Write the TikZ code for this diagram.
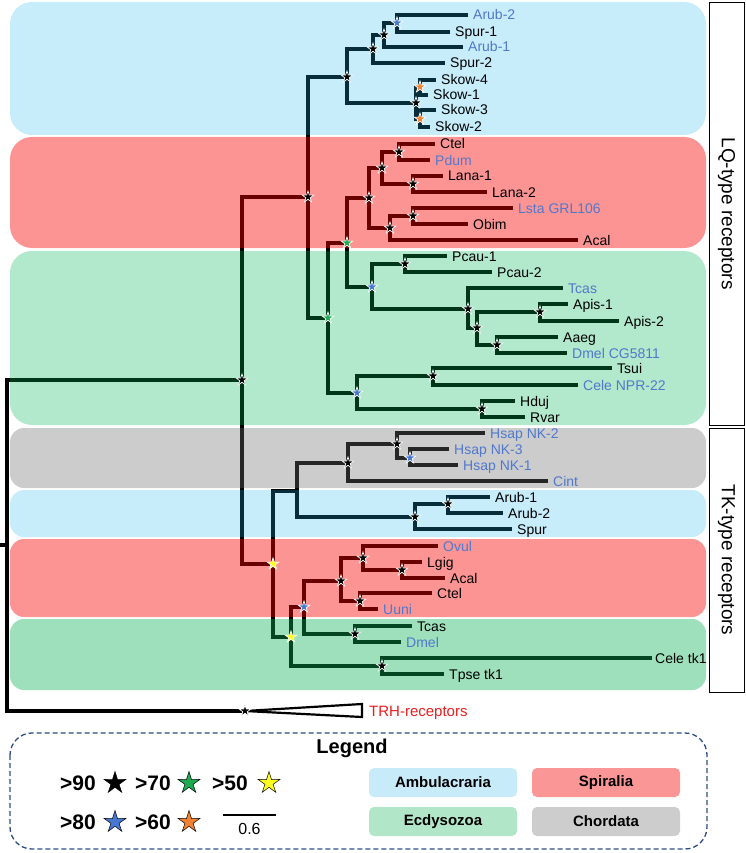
\documentclass[tikz,border=0pt]{standalone}
\usepackage{fontspec}
\setmainfont{Liberation Sans}
\usetikzlibrary{shapes.geometric}
\pgfdeclarelayer{lines}
\pgfdeclarelayer{bands}
\pgfsetlayers{lines,bands,main}
\definecolor{bblue}{RGB}{31,179,235}
\definecolor{bred}{RGB}{250,0,0}
\definecolor{bgreenA}{RGB}{0,178,82}
\definecolor{bgreenB}{RGB}{10,177,85}
\definecolor{bgray}{RGB}{109,109,109}
\definecolor{lblue}{RGB}{80,120,205}
\definecolor{trhred}{RGB}{232,30,30}
\definecolor{legblue}{RGB}{45,75,130}
\definecolor{ambc}{RGB}{200,235,250}
\definecolor{spic}{RGB}{250,150,150}
\definecolor{ecdc}{RGB}{178,230,200}
\definecolor{choc}{RGB}{205,205,205}
\definecolor{sgreen}{RGB}{30,170,80}
\definecolor{syellow}{RGB}{255,255,30}
\definecolor{sblue}{RGB}{70,120,210}
\definecolor{sorange}{RGB}{240,130,50}
\newcommand{\leaffnt}{\fontsize{14}{16}\selectfont}
\tikzset{
  br/.style={line width=3.2pt, line join=miter},
  leaf/.style={anchor=west, inner xsep=5pt, inner ysep=0pt, text height=10pt, text depth=0pt, font=\leaffnt},
  bleaf/.style={leaf, text=lblue},
  tstar/.style={star, star points=5, star point ratio=2.6, minimum size=12pt, inner sep=0pt, draw=white, line width=0.7pt},
  bst/.style={tstar, fill=black},
  ust/.style={tstar, fill=sblue},
  gst/.style={tstar, fill=sgreen},
  yst/.style={tstar, fill=syellow},
  ost/.style={tstar, fill=sorange},
  lstar/.style={star, star points=5, star point ratio=2.7, minimum size=23pt, inner sep=0pt, draw=black, line width=0.5pt},
  lgtxt/.style={anchor=west, inner sep=0pt, text height=15pt, text depth=0pt, font=\bfseries\fontsize{21}{23}\selectfont},
  lbox/.style={minimum width=148pt, minimum height=29pt, rounded corners=5pt, inner sep=0pt, font=\bfseries\fontsize{15}{17}\selectfont},
  rbox/.style={draw=black, line width=0.8pt, fill=white, rotate=-90, minimum height=35pt, inner sep=0pt, font=\fontsize{19}{21}\selectfont},
  band/.style={rounded corners=22pt},
  bandt/.style={rounded corners=14pt}
}
\begin{document}
\begin{tikzpicture}[x=1pt,y=-1pt]
\useasboundingbox (0,0) rectangle (746,853);

% ---- bands (translucent, over the branch lines) ----
\begin{pgfonlayer}{bands}
\fill[bblue, fill opacity=0.25, band] (10,2) rectangle (706,135);
\fill[bred, fill opacity=0.42, band] (10,137) rectangle (706,248);
\fill[bgreenA, fill opacity=0.30, band] (10,251) rectangle (706,425);
\fill[bgray, fill opacity=0.35, bandt] (10,428) rectangle (706,488);
\fill[bblue, fill opacity=0.25, bandt] (10,490) rectangle (706,537);
\fill[bred, fill opacity=0.42, bandt] (10,539) rectangle (706,617);
\fill[bgreenB, fill opacity=0.40, bandt] (10,619) rectangle (706,690);
\end{pgfonlayer}

% ---- right-hand boxes ----
\node[rbox, minimum width=423pt] (lqbox) at (726.5,213.5) {LQ-type receptors};
\node[rbox, minimum width=264pt] (tkbox) at (726.5,560) {TK-type receptors};

% ---- internal nodes ----
\coordinate (stub) at (0,545);
\coordinate (root) at (7,545);
\node[bst] (R1) at (242,380) {};
\node[bst] (L1) at (308,197) {};
\node[bst] (A4) at (347,77) {};
\node[bst] (A3) at (373,49) {};
\node[bst] (A2) at (384,35) {};
\node[ust] (A1) at (397,23) {};
\node[bst] (S) at (416,103) {};
\node[ost] (S1) at (420,87) {};
\node[ost] (S2) at (420,119) {};
\node[gst] (L2) at (328,318) {};
\node[gst] (NSE) at (347,243) {};
\node[bst] (Sp) at (369,198) {};
\node[bst] (Sp1) at (382,168) {};
\node[bst] (CP) at (399,152) {};
\node[bst] (LA) at (413,184) {};
\node[bst] (Sp2) at (390,228) {};
\node[bst] (LO) at (413,216) {};
\node[ust] (Ec) at (372,287) {};
\node[bst] (PC) at (405,264) {};
\node[bst] (TD) at (468,309) {};
\node[bst] (AD) at (477,328) {};
\node[bst] (AP) at (540,312) {};
\node[bst] (AA) at (497,345) {};
\node[ust] (E2) at (357,393) {};
\node[bst] (TC) at (433,376) {};
\node[bst] (HR) at (482,409) {};
\node[yst] (T1) at (273,564) {};
\coordinate (T2) at (297,491);
\node[bst] (CH) at (348,463) {};
\node[bst] (HS) at (397,444) {};
\node[ust] (HN) at (410,458) {};
\node[bst] (AR) at (415,517) {};
\node[bst] (AB) at (448,504) {};
\node[yst] (T3) at (291,637) {};
\node[ust] (T4) at (304,607) {};
\node[bst] (SP3) at (341,581) {};
\node[bst] (OV) at (363,558) {};
\node[bst] (LG) at (402,570) {};
\node[bst] (CU) at (360,601) {};
\node[bst] (TDm) at (355,634) {};
\node[bst] (TT) at (382,666) {};
\node[bst] (trh) at (245,711) {};

% ---- leaves ----
\node[bleaf] (lArub2) at (468,15) {Arub-2};
\node[leaf] (lSpur1) at (450,32) {Spur-1};
\node[bleaf] (lArub1) at (463,47) {Arub-1};
\node[leaf] (lSpur2) at (445,63) {Spur-2};
\node[leaf] (lSkow4) at (436,80) {Skow-4};
\node[leaf] (lSkow1) at (428,95) {Skow-1};
\node[leaf] (lSkow3) at (436,110) {Skow-3};
\node[leaf] (lSkow2) at (430,127) {Skow-2};
\node[leaf] (lCtel) at (435,144) {Ctel};
\node[bleaf] (lPdum) at (430,160) {Pdum};
\node[leaf] (lLana1) at (443,176) {Lana-1};
\node[leaf] (lLana2) at (487,192) {Lana-2};
\node[bleaf] (lLsta) at (513,208) {Lsta GRL106};
\node[leaf] (lObim) at (468,224) {Obim};
\node[leaf] (lAcal) at (578,240) {Acal};
\node[leaf] (lPcau1) at (447,256) {Pcau-1};
\node[leaf] (lPcau2) at (492,272) {Pcau-2};
\node[bleaf] (lTcas) at (563,288) {Tcas};
\node[leaf] (lApis1) at (568,304) {Apis-1};
\node[leaf] (lApis2) at (619,321) {Apis-2};
\node[leaf] (lAaeg) at (558,337) {Aaeg};
\node[bleaf] (lDmelCG) at (567,353) {Dmel CG5811};
\node[leaf] (lTsui) at (612,368) {Tsui};
\node[bleaf] (lCele) at (578,385) {Cele NPR-22};
\node[leaf] (lHduj) at (515,401) {Hduj};
\node[leaf] (lRvar) at (525,417) {Rvar};
\node[bleaf] (lNK2) at (485,433) {Hsap NK-2};
\node[bleaf] (lNK3) at (449,449) {Hsap NK-3};
\node[bleaf] (lNK1) at (458,465) {Hsap NK-1};
\node[bleaf] (lCint) at (548,481) {Cint};
\node[leaf] (ltArub1) at (490,497) {Arub-1};
\node[leaf] (ltArub2) at (503,513) {Arub-2};
\node[leaf] (ltSpur) at (512,529) {Spur};
\node[bleaf] (lOvul) at (438,546) {Ovul};
\node[leaf] (lLgig) at (422,562) {Lgig};
\node[leaf] (ltAcal) at (445,578) {Acal};
\node[leaf] (ltCtel) at (432,593) {Ctel};
\node[bleaf] (lUuni) at (378,609) {Uuni};
\node[leaf] (ltTcas) at (412,626) {Tcas};
\node[bleaf] (ltDmel) at (401,642) {Dmel};
\node[leaf, inner xsep=3pt] (lCeletk) at (652,658) {Cele tk1};
\node[leaf] (lTpse) at (444,674) {Tpse tk1};
\node[anchor=west, inner sep=0pt, text height=10.5pt, text depth=0pt, font=\fontsize{15}{17}\selectfont, text=trhred] (ltrh) at (369,711) {TRH-receptors};

% ---- branches ----
\begin{pgfonlayer}{lines}
\draw[br] (stub) -- (root) (root) |- (R1.center) (root) |- (trh.center);
\draw[br] (R1.center) |- (L1.center) (R1.center) |- (T1.center);
\draw[br] (L1.center) |- (A4.center) (L1.center) |- (L2.center);
\draw[br] (A4.center) |- (A3.center) (A4.center) |- (S.center);
\draw[br] (A3.center) |- (A2.center) (A3.center) |- (lSpur2);
\draw[br] (A2.center) |- (A1.center) (A2.center) |- (lArub1);
\draw[br] (A1.center) |- (lArub2) (A1.center) |- (lSpur1);
\draw[br] (S.center) |- (S1.center) (S.center) |- (S2.center);
\draw[br] (S1.center) |- (lSkow4) (S1.center) |- (lSkow1);
\draw[br] (S2.center) |- (lSkow3) (S2.center) |- (lSkow2);
\draw[br] (L2.center) |- (NSE.center) (L2.center) |- (E2.center);
\draw[br] (NSE.center) |- (Sp.center) (NSE.center) |- (Ec.center);
\draw[br] (Sp.center) |- (Sp1.center) (Sp.center) |- (Sp2.center);
\draw[br] (Sp1.center) |- (CP.center) (Sp1.center) |- (LA.center);
\draw[br] (CP.center) |- (lCtel) (CP.center) |- (lPdum);
\draw[br] (LA.center) |- (lLana1) (LA.center) |- (lLana2);
\draw[br] (Sp2.center) |- (LO.center) (Sp2.center) |- (lAcal);
\draw[br] (LO.center) |- (lLsta) (LO.center) |- (lObim);
\draw[br] (Ec.center) |- (PC.center) (Ec.center) |- (TD.center);
\draw[br] (PC.center) |- (lPcau1) (PC.center) |- (lPcau2);
\draw[br] (TD.center) |- (lTcas) (TD.center) |- (AD.center);
\draw[br] (AD.center) |- (AP.center) (AD.center) |- (AA.center);
\draw[br] (AP.center) |- (lApis1) (AP.center) |- (lApis2);
\draw[br] (AA.center) |- (lAaeg) (AA.center) |- (lDmelCG);
\draw[br] (E2.center) |- (TC.center) (E2.center) |- (HR.center);
\draw[br] (TC.center) |- (lTsui) (TC.center) |- (lCele);
\draw[br] (HR.center) |- (lHduj) (HR.center) |- (lRvar);
\draw[br] (T1.center) |- (T2) (T1.center) |- (T3.center);
\draw[br] (T2) |- (CH.center) (T2) |- (AR.center);
\draw[br] (CH.center) |- (HS.center) (CH.center) |- (lCint);
\draw[br] (HS.center) |- (lNK2) (HS.center) |- (HN.center);
\draw[br] (HN.center) |- (lNK3) (HN.center) |- (lNK1);
\draw[br] (AR.center) |- (AB.center) (AR.center) |- (ltSpur);
\draw[br] (AB.center) |- (ltArub1) (AB.center) |- (ltArub2);
\draw[br] (T3.center) |- (T4.center) (T3.center) |- (TT.center);
\draw[br] (T4.center) |- (SP3.center) (T4.center) |- (TDm.center);
\draw[br] (SP3.center) |- (OV.center) (SP3.center) |- (CU.center);
\draw[br] (OV.center) |- (lOvul) (OV.center) |- (LG.center);
\draw[br] (LG.center) |- (lLgig) (LG.center) |- (ltAcal);
\draw[br] (CU.center) |- (ltCtel) (CU.center) |- (lUuni);
\draw[br] (TDm.center) |- (ltTcas) (TDm.center) |- (ltDmel);
\draw[br] (TT.center) |- (lCeletk) (TT.center) |- (lTpse);
\draw[line width=2.2pt, line join=miter, fill=white] (trh.center) -- (362,704) -- (362,717) -- cycle;
\end{pgfonlayer}

% ---- legend ----
\draw[legblue, line width=1.3pt, dash pattern=on 5pt off 3pt, rounded corners=22pt] (10,733) rectangle (707,849);
\node[font=\bfseries\fontsize{20}{22}\selectfont, inner sep=0pt] (legt) at (352,748) {Legend};
\node[lgtxt] (k90) at (60,783) {>90};
\node[lstar, fill=black] (s90) at (115,783) {};
\node[lgtxt] (k70) at (135,783) {>70};
\node[lstar, fill=sgreen] (s70) at (189,783) {};
\node[lgtxt] (k50) at (212,783) {>50};
\node[lstar, fill=syellow] (s50) at (269,783) {};
\node[lgtxt] (k80) at (60,822) {>80};
\node[lstar, fill=sblue] (s80) at (115,822) {};
\node[lgtxt] (k60) at (135,822) {>60};
\node[lstar, fill=sorange] (s60) at (189,822) {};
\coordinate (sbA) at (223,815);
\coordinate (sbB) at (276,815);
\draw[line width=1.5pt] (sbA) -- (sbB);
\node[font=\fontsize{16}{18}\selectfont, inner sep=0pt] (sbl) at (249.5,829) {0.6};
\node[lbox, fill=ambc] (kamb) at (443,782.5) {Ambulacraria};
\node[lbox, fill=spic] (kspi) at (606,782.5) {Spiralia};
\node[lbox, fill=ecdc] (kecd) at (443,821.5) {Ecdysozoa};
\node[lbox, fill=choc] (kcho) at (606,821.5) {Chordata};
\end{tikzpicture}
\end{document}
